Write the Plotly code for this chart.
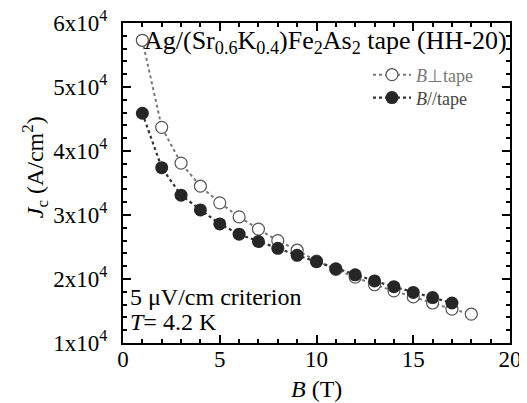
import plotly.graph_objects as go

B = [1, 2, 3, 4, 5, 6, 7, 8, 9, 10, 11, 12, 13, 14, 15, 16, 17, 18]
jc_perp = [57300, 43700, 38100, 34500, 31900, 29700, 27800, 26000, 24500,
           22800, 21500, 20300, 19100, 18150, 17200, 16250, 15300, 14500]
B_par = [1, 2, 3, 4, 5, 6, 7, 8, 9, 10, 11, 12, 13, 14, 15, 16, 17]
jc_par = [45900, 37400, 33100, 30800, 28600, 27000, 25850, 24800, 23700,
          22700, 21600, 20650, 19700, 18800, 17900, 17100, 16250]

yticks = [10000, 20000, 30000, 40000, 50000, 60000]
yticktext = ["1x10<sup>4</sup>", "2x10<sup>4</sup>", "3x10<sup>4</sup>",
             "4x10<sup>4</sup>", "5x10<sup>4</sup>", "6x10<sup>4</sup>"]
xticks = [0, 5, 10, 15, 20]

FONT = "Liberation Serif, Times New Roman, serif"

fig = go.Figure()
fig.add_trace(go.Scatter(
    x=B, y=jc_perp, mode="lines+markers", legend="legend",
    name="<span style='color:#777'><i>B</i>⊥tape</span>",
    line=dict(color="#777777", width=2, dash="dot"),
    marker=dict(symbol="circle", size=12, color="white",
                line=dict(color="#555555", width=1.2)),
))
fig.add_trace(go.Scatter(
    x=B_par, y=jc_par, mode="lines+markers", legend="legend2",
    name="<span style='color:#444'><i>B</i>//tape</span>",
    line=dict(color="#333333", width=2.2, dash="dot"),
    marker=dict(symbol="circle", size=13, color="#262626",
                line=dict(color="#262626", width=0)),
))

axis_common = dict(
    showline=True, linecolor="black", linewidth=2, mirror="ticks",
    ticks="inside", ticklen=8, tickwidth=1.5, tickcolor="black",
    showgrid=False, zeroline=False, automargin=False,
    ticklabeloverflow="allow",
    tickfont=dict(family=FONT, size=23, color="black"),
)

fig.update_xaxes(
    range=[0, 20], tickvals=xticks,
    minor=dict(ticks="inside", ticklen=4, dtick=1, tickcolor="black", tickwidth=1.5),
    ticklabelstandoff=-6,
    **axis_common,
)
fig.update_yaxes(
    range=[10000, 60000], tickvals=yticks, ticktext=yticktext,
    minor=dict(ticks="inside", ticklen=4, dtick=2000, tickcolor="black", tickwidth=1.5),
    ticklabelstandoff=9,
    **axis_common,
)

# axis titles
fig.add_annotation(
    x=0.5, y=-0.143, xref="paper", yref="paper", xanchor="center", yanchor="middle",
    text="<i>B</i> (T)", showarrow=False,
    font=dict(family=FONT, size=24, color="black"),
)
fig.add_annotation(
    x=-0.227, y=0.55, xref="paper", yref="paper", xanchor="center", yanchor="middle",
    text="<i>J</i><sub>c</sub> (A/cm<sup>2</sup>)", textangle=-90, showarrow=False,
    font=dict(family=FONT, size=24, color="black"),
)

fig.add_annotation(
    x=0.049, y=0.997, xref="paper", yref="paper", xanchor="left", yanchor="top",
    text="Ag/(Sr<sub>0.6</sub>K<sub>0.4</sub>)Fe<sub>2</sub>As<sub>2</sub> tape (HH-20)",
    showarrow=False, font=dict(family=FONT, size=26, color="black"),
)
fig.add_annotation(
    x=0.012, y=0.144, xref="paper", yref="paper", xanchor="left", yanchor="middle",
    text="5 μV/cm criterion",
    showarrow=False, font=dict(family=FONT, size=24, color="black"),
)
fig.add_annotation(
    x=0.012, y=0.066, xref="paper", yref="paper", xanchor="left", yanchor="middle",
    text="<i>T</i>= 4.2 K",
    showarrow=False, font=dict(family=FONT, size=24, color="black"),
)

legend_common = dict(xanchor="left", yanchor="middle", bgcolor="rgba(0,0,0,0)",
                     font=dict(family=FONT, size=18), itemwidth=38)

# page body has an 8px default margin; compensate so the plot lands where the reference has it
fig.update_layout(
    width=519, height=395,
    margin=dict(l=115, r=17, t=15, b=60),
    paper_bgcolor="white", plot_bgcolor="white",
    showlegend=True,
    legend=dict(x=0.633, y=0.8375, **legend_common),
    legend2=dict(x=0.633, y=0.766, **legend_common),
    font=dict(family=FONT),
)

fig.write_html("out.html")
